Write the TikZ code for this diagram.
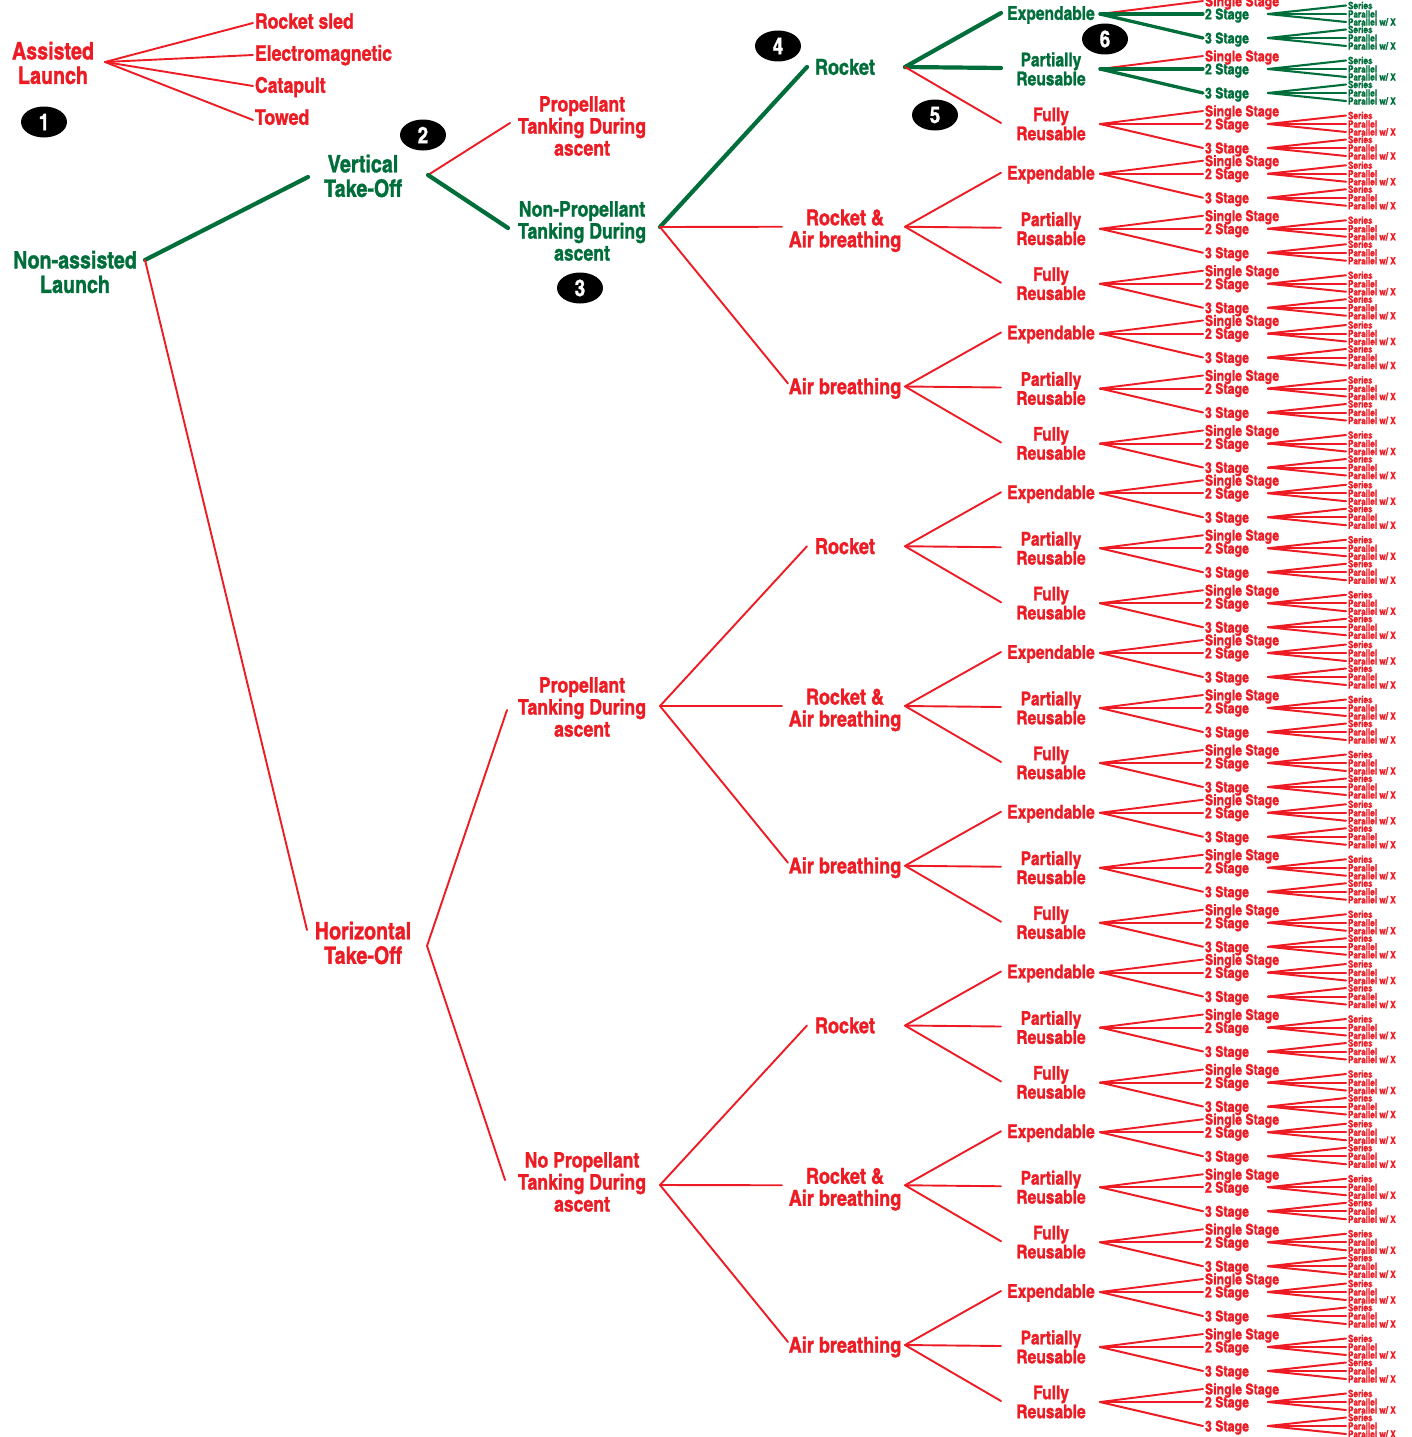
\documentclass[tikz,border=0pt]{standalone}
\usepackage{fontspec}
\newfontfamily\hcn{texgyreheroscn-bold.otf}[FakeBold=1.2]
\usetikzlibrary{shapes.geometric}
\definecolor{tred}{RGB}{237,28,36}
\definecolor{tgreen}{RGB}{0,110,58}
\tikzset{
  base/.style={inner sep=0pt, outer sep=0pt, align=center},
  t0/.style={base, font=\hcn\fontsize{24}{24.5}\selectfont},
  t1/.style={base, anchor=west, font=\hcn\fontsize{21.5}{22}\selectfont, text height=15.5pt, text depth=0pt},
  t2/.style={base, font=\hcn\fontsize{21.5}{22}\selectfont},
  t3/.style={base, font=\hcn\fontsize{22}{22}\selectfont},
  t4/.style={base, font=\hcn\fontsize{19}{19}\selectfont},
  t5/.style={base, anchor=west, font=\hcn\fontsize{15}{15}\selectfont, text height=10.8pt, text depth=0pt},
  t6/.style={base, anchor=west, font=\hcn\fontsize{10}{10}\selectfont, text height=7.2pt, text depth=0pt},
  ln/.style={line cap=round, line join=round},
  rl/.style={ln, draw=tred, line width=1.9pt},
  gk/.style={ln, draw=tgreen, line width=4.2pt},
  badge/.style={ellipse, fill=black, text=white, minimum width=46pt, minimum height=31pt, inner sep=0pt, font=\hcn\fontsize{23}{23}\selectfont}
}
\def\pwx{Parallel w/ X}
\begin{document}
\begin{tikzpicture}[x=1pt,y=-1pt]
\useasboundingbox (0,0) rectangle (1411,1437);

% level 0
\node[t0,text=tred] (assist) at (53,63) {Assisted\\Launch};
\coordinate (assistO) at (105,62);
\node[t0,text=tgreen] (nonassist) at (75,272) {Non-assisted\\Launch};
\coordinate (nonassistO) at (145,260);

% assisted children
\foreach \na/\ta/\ya/\yb in {rs/Rocket sled/21/23, em/Electromagnetic/53/55, cat/Catapult/85/86, tow/Towed/117/120} {
  \node[t1,text=tred] (\na) at (255,\ya) {\ta};
  \coordinate (\na I) at (253,\yb);
  \draw[rl] (assistO) -- (\na I);
}

% level 1
\node[t0,text=tgreen] (vto) at (363,176) {Vertical\\Take-Off};
\coordinate (vtoI) at (308,177); \coordinate (vtoO) at (428,175);
\node[t0,text=tred] (hto) at (363,943) {Horizontal\\Take-Off};
\coordinate (htoI) at (307,930); \coordinate (htoO) at (427,946);
\draw[gk] (nonassistO) -- (vtoI);
\draw[rl] (nonassistO) -- (htoI);

% level 2
\node[t2,text=tred] (vp) at (582,126) {Propellant\\Tanking During\\ascent};
\coordinate (vpI) at (510,123);
\node[t2,text=tgreen] (vn) at (582,231) {Non-Propellant\\Tanking During\\ascent};
\coordinate (vnI) at (508,228); \coordinate (vnO) at (660,227);
\node[t2,text=tred] (hp) at (582,707) {Propellant\\Tanking During\\ascent};
\coordinate (hpI) at (507,710); \coordinate (hpO) at (660,706);
\node[t2,text=tred] (hn) at (582,1182) {No Propellant\\Tanking During\\ascent};
\coordinate (hnI) at (505,1180); \coordinate (hnO) at (660,1185);
\draw[rl] (vtoO) -- (vpI);
\draw[gk] (vtoO) -- (vnI);
\draw[rl] (htoO) -- (hpI);
\draw[rl] (htoO) -- (hnI);

% levels 3-6
\foreach \ga/\pa in {0/vnO,1/vnO,2/vnO,3/hpO,4/hpO,5/hpO,6/hnO,7/hnO,8/hnO} {
  \pgfmathsetmacro\E{13+159.75*\ga}
  \pgfmathsetmacro\Y{\E+54}
  \pgfmathtruncatemacro\mm{mod(\ga,3)}
  \ifnum\ga=0 \def\cA{tgreen}\def\wA{4.2}\else\def\cA{tred}\def\wA{1.9}\fi
  \ifcase\mm
    \node[t3,text=\cA] (g\ga) at (845,\Y) {Rocket};
    \coordinate (g\ga I) at (807,\Y);
  \or
    \node[t3,text=\cA] (g\ga) at (845,\Y+4) {Rocket \&\\Air breathing};
    \coordinate (g\ga I) at (782,\Y);
  \or
    \node[t3,text=\cA] (g\ga) at (845,\Y+2) {Air breathing};
    \coordinate (g\ga I) at (788,\Y-3);
  \fi
  \coordinate (g\ga O) at (905,\Y);
  \draw[ln, draw=\cA, line width=\wA pt] (\pa) -- (g\ga I);
  \foreach \gb in {0,1,2} {
    \pgfmathsetmacro\Z{\E+55*\gb}
    \def\cB{tred}\def\wB{1.9}\def\wC{2}\def\wL{2}
    \ifnum\ga=0 \ifnum\gb<2 \def\cB{tgreen}\def\wB{4.2}\def\wC{3.3}\def\wL{2.1}\fi\fi
    \ifcase\gb
      \node[t4,text=\cB] (g\ga-\gb) at (1051,\Z+2) {Expendable};
    \or
      \node[t4,text=\cB] (g\ga-\gb) at (1051,\Z+1) {Partially\\Reusable};
    \or
      \node[t4,text=\cB] (g\ga-\gb) at (1051,\Z+1) {Fully\\Reusable};
    \fi
    \coordinate (g\ga-\gb I) at (1001,\Z);
    \coordinate (g\ga-\gb O) at (1100,\Z+1);
    \draw[ln, draw=\cB, line width=\wB pt] (g\ga O) -- (g\ga-\gb I);
    \node[t5,text=tred] (g\ga-\gb-1) at (1205,\Z-12) {Single Stage};
    \coordinate (g\ga-\gb-1I) at (1203,\Z-12);
    \draw[rl] (g\ga-\gb O) -- (g\ga-\gb-1I);
    \foreach \gs/\dy in {2/1,3/25} {
      \node[t5,text=\cB] (g\ga-\gb-\gs) at (1205,\Z+\dy) {\gs\ Stage};
      \coordinate (g\ga-\gb-\gs I) at (1203,\Z+\dy);
      \coordinate (g\ga-\gb-\gs O) at (1268,\Z+\dy);
      \draw[ln, draw=\cB, line width=\wC pt] (g\ga-\gb O) -- (g\ga-\gb-\gs I);
      \foreach \gq/\ly/\lt in {1/-8.5/Series, 2/0/Parallel, 3/8/\pwx} {
        \node[t6,text=\cB] (g\ga-\gb-\gs-\gq) at (1348,\Z+\dy+\ly) {\lt};
        \coordinate (g\ga-\gb-\gs-\gq I) at (1346,\Z+\dy+\ly);
        \draw[ln, draw=\cB, line width=\wL pt] (g\ga-\gb-\gs O) -- (g\ga-\gb-\gs-\gq I);
      }
    }
  }
}

% badges
\node[badge] (b1) at (44,122) {1};
\node[badge] (b2) at (423,135) {2};
\node[badge] (b3) at (580,288) {3};
\node[badge] (b4) at (778,46) {4};
\node[badge] (b5) at (935,115) {5};
\node[badge] (b6) at (1105,39) {6};
\end{tikzpicture}
\end{document}
